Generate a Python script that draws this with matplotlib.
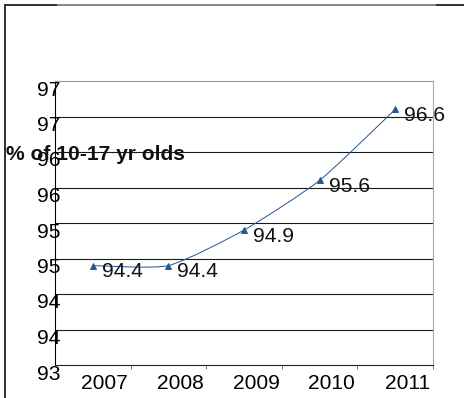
import math
import numpy as np
import matplotlib
matplotlib.use("Agg")
import matplotlib.pyplot as plt
from matplotlib.path import Path
from matplotlib.patches import PathPatch
from matplotlib.ticker import FuncFormatter
from matplotlib.transforms import ScaledTranslation
from matplotlib.lines import Line2D

# Data
years = ["2007", "2008", "2009", "2010", "2011"]
values = [94.4, 94.4, 94.9, 95.6, 96.6]
y_ticks = [93.0, 93.5, 94.0, 94.5, 95.0, 95.5, 96.0, 96.5, 97.0]
y_label = "% of 10-17 yr olds"

plt.rcParams["font.family"] = ["Liberation Sans", "DejaVu Sans"]

DPI = 72
W, H = 464, 398
FS = 21
LINE_COLOR = "#2B5895"

fig = plt.figure(figsize=(W / DPI, H / DPI), dpi=DPI)
ax = fig.add_axes([55 / W, 33 / H, 378 / W, 284 / H])

n = len(years)
ax.set_xlim(0, n)
ax.set_ylim(y_ticks[0], y_ticks[-1])
xs = np.arange(n) + 0.5

# Horizontal gridlines
for v in y_ticks[1:-1]:
    ax.axhline(v, color="#1a1a1a", lw=1.1, zorder=1)

# Spines
ax.spines["left"].set_color("#000000")
ax.spines["bottom"].set_color("#222222")
ax.spines["top"].set_color("#999999")
ax.spines["right"].set_color("#aaaaaa")
for s in ax.spines.values():
    s.set_linewidth(1.1)

# Lightly smoothed line (cubic Bezier through the points, in display space)
SMOOTH = 1.0 / 10.0
pts = ax.transData.transform(np.column_stack([xs, values]))
verts = [pts[0]]
codes = [Path.MOVETO]
for i in range(n - 1):
    p0 = pts[i - 1] if i > 0 else pts[i]
    p1 = pts[i]
    p2 = pts[i + 1]
    p3 = pts[i + 2] if i + 2 < n else pts[i + 1]
    c1 = p1 + (p2 - p0) * SMOOTH
    c2 = p2 - (p3 - p1) * SMOOTH
    verts += [c1, c2, p2]
    codes += [Path.CURVE4] * 3
verts = ax.transData.inverted().transform(np.array(verts))
ax.add_patch(PathPatch(Path(verts, codes), facecolor="none",
                       edgecolor=LINE_COLOR, lw=1.0, zorder=3))
ax.plot(xs, values, linestyle="none", marker="^", markersize=6,
        color=LINE_COLOR, zorder=4)

# Value labels
for xi, v in zip(xs, values):
    ax.annotate(f"{v:.1f}", (xi, v), xytext=(9, -6), textcoords="offset points",
                ha="left", va="center", fontsize=FS, color="#111111", zorder=5)

# X axis: labels at category centres, tick marks between categories
ax.set_xticks(xs)
ax.set_xticklabels(years, fontsize=FS)
ax.set_xticks(np.arange(1, n + 1), minor=True)
ax.tick_params(axis="x", which="major", length=0, pad=9)
ax.tick_params(axis="x", which="minor", length=4, direction="out", color="#222222")
for lbl in ax.get_xticklabels():
    lbl.set_transform(lbl.get_transform() + ScaledTranslation(12 / DPI, 0, fig.dpi_scale_trans))

# Y axis: rounded labels
ax.set_yticks(y_ticks)
ax.yaxis.set_major_formatter(FuncFormatter(lambda v, p: f"{math.floor(v + 0.5):d}"))
ax.tick_params(axis="y", length=0, pad=-5, labelsize=FS)
for lbl in ax.get_yticklabels():
    lbl.set_transform(lbl.get_transform() + ScaledTranslation(0, -7 / DPI, fig.dpi_scale_trans))

# Axis title, placed horizontally across the value axis
fig.text(6 / W, 1 - 155 / H, y_label, ha="left", va="center",
         fontsize=FS, fontweight="bold", color="#111111")

# Chart frame
def frame_seg(x0, y0, x1, y1, color):
    fig.add_artist(Line2D([x0 / W, x1 / W], [1 - y0 / H, 1 - y1 / H],
                          color=color, lw=2, transform=fig.transFigure))

frame_seg(5, 5, 58, 5, "#333333")
frame_seg(58, 5, 437, 5, "#888888")
frame_seg(437, 5, W, 5, "#333333")
frame_seg(5, 5, 5, H, "#333333")

fig.savefig("out.png", dpi=DPI)
